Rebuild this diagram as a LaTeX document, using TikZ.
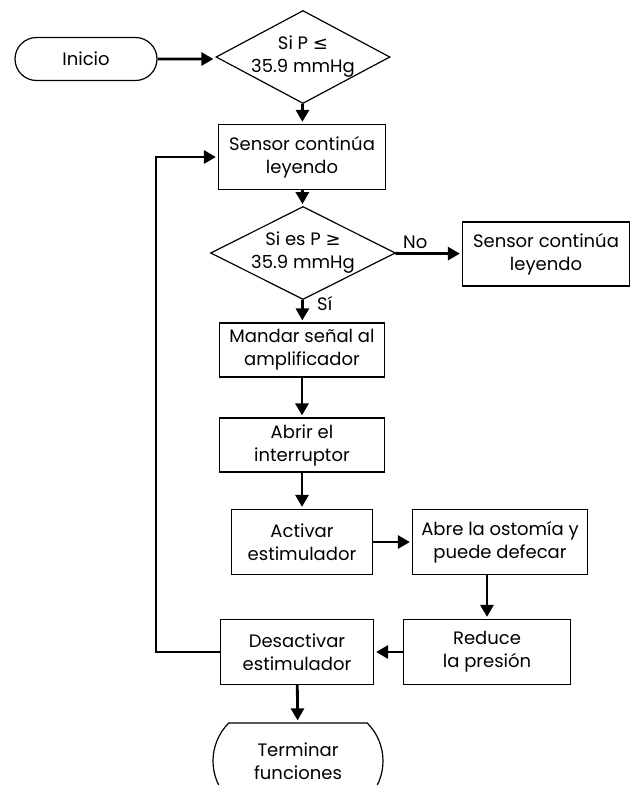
\documentclass[tikz,border=0pt]{standalone}
\usepackage{fontspec}
\setmainfont{Poppins}
\newfontfamily\simbfont{DejaVu Sans}
\usetikzlibrary{shapes.geometric,shapes.misc,arrows.meta}
\begin{document}
\begin{tikzpicture}[x=1pt,y=-1pt,
  font=\fontsize{18}{23}\selectfont,
  caja/.style={draw, line width=1.2pt, align=center, inner sep=0pt},
  terminal/.style={draw, line width=1.2pt, align=center, rounded rectangle, inner sep=0pt},
  decision/.style={draw, line width=1.2pt, align=center, diamond, aspect=2, inner sep=-22pt},
  flecha/.style={line width=2.8pt, -{Triangle[length=12pt,width=13pt]}, shorten >=2pt},
  linea/.style={line width=2.8pt}]
\useasboundingbox (0,0) rectangle (637,785);
\node[terminal, minimum width=142pt, minimum height=43pt, rounded rectangle arc length=180] (nod0) at (86,59){Inicio};
\node[decision, minimum width=174pt, minimum height=93pt] (nod1) at (303,57){Si P {\simbfont ≤}\\35.9 mmHg};
\node[caja, minimum width=167pt, minimum height=65pt] (nod2) at (302,157){Sensor continúa\\leyendo};
\node[decision, minimum width=185pt, minimum height=93pt] (nod3) at (303,253){Si es P {\simbfont ≥}\\35.9 mmHg};
\node[caja, minimum width=167pt, minimum height=64pt] (nod4) at (546,254){Sensor continúa\\leyendo};
\node[caja, minimum width=165pt, minimum height=54pt] (nod5) at (302,350){Mandar señal al\\amplificador};
\node[caja, minimum width=165pt, minimum height=54pt] (nod6) at (302,445){Abrir el\\interruptor};
\node[caja, minimum width=141pt, minimum height=65pt] (nod7) at (302,542){Activar\\estimulador};
\node[caja, minimum width=175pt, minimum height=65pt] (nod8) at (500,542){Abre la ostomía y\\puede defecar};
\node[caja, minimum width=167pt, minimum height=65pt] (nod9) at (487,652){Reduce\\la presión};
\node[caja, minimum width=153pt, minimum height=65pt] (nod10) at (297,652){Desactivar\\estimulador};
\node[terminal, minimum width=170pt, minimum height=76pt, rounded rectangle arc length=90] (nod11) at (298,761){Terminar\\funciones};
\coordinate (ret) at (156,0);
\draw[flecha](nod0) -- (nod0 -| nod1.west);
\draw[flecha](nod1) -- (nod2);
\draw[flecha](nod2) -- (nod3);
\draw[flecha](nod3) -- node[pos=0.3, above]{No} (nod4);
\draw[flecha](nod3) -- node[pos=0.15, right, xshift=10pt]{Sí} (nod5);
\draw[flecha](nod5) -- (nod6);
\draw[flecha](nod6) -- (nod7);
\draw[flecha](nod7) -- (nod8);
\draw[flecha](nod8.south -| nod9.north) -- (nod9.north);
\draw[flecha](nod9) -- (nod10);
\draw[flecha](nod10) -- (nod11);
\draw[flecha](nod10.west) -| (ret |- nod2.west) -- (nod2.west);
\end{tikzpicture}
\end{document}
